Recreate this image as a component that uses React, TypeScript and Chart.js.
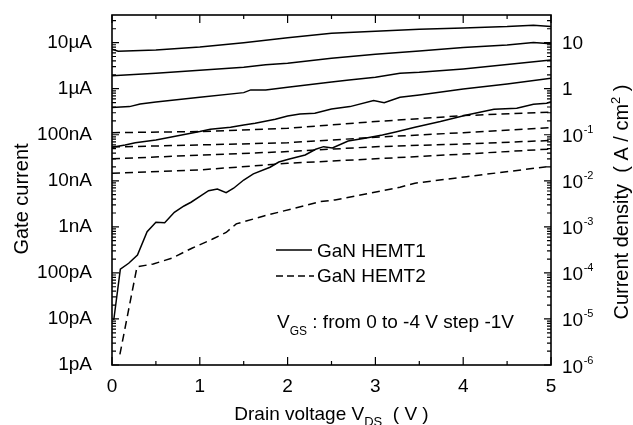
import React, { useEffect, useRef } from "react";
import { Chart, registerables } from "chart.js";

Chart.register(...registerables);

// ---- Data ----
// GaN HEMT1 (solid), VGS = 0 .. -4 V
const h1v0x = [0, 0.07, 0.5, 1, 1.5, 2, 2.5, 3, 3.5, 4, 4.5, 4.8, 5];
const h1v0y = [7.2e-6, 6.5e-6, 6.9e-6, 8.0e-6, 9.9e-6, 1.27e-5, 1.6e-5, 1.77e-5, 1.95e-5, 2.09e-5, 2.23e-5, 2.39e-5, 2.25e-5];

const h1v1x = [0, 0.5, 1, 1.5, 1.75, 2, 2.5, 3, 3.5, 4, 4.5, 4.8, 5];
const h1v1y = [1.92e-6, 2.17e-6, 2.52e-6, 2.92e-6, 3.3e-6, 3.57e-6, 4.59e-6, 5.61e-6, 6.61e-6, 7.8e-6, 8.93e-6, 1.0e-5, 9.4e-6];

const h1v2x = [0, 0.2, 0.32, 0.5, 1, 1.5, 1.58, 1.75, 2, 2.5, 2.7, 3, 3.28, 3.5, 4, 4.5, 5];
const h1v2y = [3.88e-7, 4.08e-7, 4.67e-7, 5.16e-7, 6.53e-7, 8.21e-7, 9.4e-7, 9.4e-7, 1.08e-6, 1.4e-6, 1.55e-6, 1.77e-6, 2.17e-6, 2.28e-6, 2.69e-6, 3.33e-6, 4.22e-6];

const h1v3x = [0, 0.15, 0.265, 0.5, 1.0, 1.12, 1.35, 1.5, 1.63, 1.86, 2.0, 2.14, 2.31, 2.5, 2.71, 2.98, 3.1, 3.28, 3.5, 4.0, 4.5, 5.0];
const h1v3y = [5.35e-8, 6.0e-8, 6.73e-8, 7.71e-8, 1.17e-7, 1.32e-7, 1.45e-7, 1.63e-7, 1.78e-7, 2.17e-7, 2.56e-7, 2.83e-7, 2.93e-7, 3.63e-7, 4.08e-7, 5.5e-7, 4.98e-7, 6.53e-7, 7.32e-7, 9.88e-7, 1.27e-6, 1.69e-6];

const h1v4x = [0.02, 0.095, 0.19, 0.29, 0.4, 0.5, 0.6, 0.71, 0.82, 0.9, 1.01, 1.1, 1.2, 1.3, 1.385, 1.5, 1.61, 1.8, 1.9, 2.01, 2.2, 2.32, 2.41, 2.51, 2.69, 2.88, 3.08, 3.23, 3.45, 3.74, 4.04, 4.35, 4.61, 4.8, 4.95, 5.0];
const h1v4y = [9.5e-12, 1.2e-10, 1.62e-10, 2.45e-10, 7.85e-10, 1.26e-9, 1.23e-9, 2.07e-9, 2.84e-9, 3.42e-9, 4.69e-9, 6.11e-9, 6.65e-9, 5.52e-9, 6.89e-9, 1.04e-8, 1.41e-8, 1.97e-8, 2.56e-8, 2.94e-8, 3.64e-8, 4.84e-8, 5.51e-8, 5.16e-8, 7.33e-8, 8.39e-8, 9.9e-8, 1.15e-7, 1.46e-7, 1.93e-7, 2.69e-7, 3.58e-7, 3.77e-7, 4.6e-7, 4.84e-7, 5.24e-7];

// GaN HEMT2 (dashed), VGS = 0 .. -4 V
const h2x = [0, 1, 2, 3, 4, 5];
const h2v0y = [1.11e-7, 1.17e-7, 1.38e-7, 1.93e-7, 2.6e-7, 3.1e-7];
const h2v1y = [5.4e-8, 6.0e-8, 6.7e-8, 8.8e-8, 1.11e-7, 1.43e-7];
const h2v2y = [3.0e-8, 3.6e-8, 4.3e-8, 5.5e-8, 6.3e-8, 7.5e-8];
const h2v3y = [1.46e-8, 1.72e-8, 2.4e-8, 3.0e-8, 3.8e-8, 4.9e-8];

const h2v4x = [0.09, 0.285, 0.47, 0.68, 0.91, 1.14, 1.3, 1.415, 1.73, 2.37, 2.54, 3.28, 3.45, 4.04, 5.0];
const h2v4y = [1.7e-12, 1.36e-10, 1.56e-10, 2.08e-10, 3.43e-10, 5.37e-10, 7.55e-10, 1.16e-9, 1.72e-9, 3.52e-9, 3.84e-9, 7.24e-9, 8.85e-9, 1.23e-8, 2.07e-8];

// Axes
const xTickValues = [0, 1, 2, 3, 4, 5];
const xTickLabels = ["0", "1", "2", "3", "4", "5"];
const leftTickValues = [1e-12, 1e-11, 1e-10, 1e-9, 1e-8, 1e-7, 1e-6, 1e-5];
const leftTickLabels = ["1pA", "10pA", "100pA", "1nA", "10nA", "100nA", "1µA", "10µA"];
const rightTickValues = [1e-6, 1e-5, 1e-4, 1e-3, 1e-2, 1e-1, 1, 10];
const rightTickBase = ["10", "10", "10", "10", "10", "10", "1", "10"];
const rightTickExp = ["-6", "-5", "-4", "-3", "-2", "-1", "", ""];

const legendLabels = ["GaN HEMT1", "GaN HEMT2"];

const FONT = '"Liberation Sans", Arial, Helvetica, sans-serif';
const font = (s: number) => `${s}px ${FONT}`;

type Part = { t: string; s: number; dy: number };

function richWidth(ctx: CanvasRenderingContext2D, parts: Part[]) {
  let w = 0;
  for (const p of parts) {
    ctx.font = font(p.s);
    w += ctx.measureText(p.t).width;
  }
  return w;
}
function drawRich(ctx: CanvasRenderingContext2D, parts: Part[], x: number, y: number, center: boolean) {
  let cx = center ? x - richWidth(ctx, parts) / 2 : x;
  ctx.textAlign = "left";
  ctx.textBaseline = "alphabetic";
  for (const p of parts) {
    ctx.font = font(p.s);
    ctx.fillText(p.t, cx, y + p.dy);
    cx += ctx.measureText(p.t).width;
  }
}

const decorations = {
  id: "decorations",
  afterDraw(chart: any) {
    const { ctx, chartArea: a, scales } = chart;
    const xs = scales.x;
    const yl = scales.y;
    const yr = scales.yRight;
    ctx.save();
    ctx.strokeStyle = "#000";
    ctx.fillStyle = "#000";
    ctx.lineWidth = 1.6;
    ctx.strokeRect(a.left, a.top, a.right - a.left, a.bottom - a.top);

    ctx.lineWidth = 1.2;
    ctx.beginPath();
    // x ticks (bottom and top), inward
    for (let v = 0; v <= 5.0001; v += 0.5) {
      const px = xs.getPixelForValue(v);
      const major = Math.abs(v - Math.round(v)) < 1e-6;
      const len = major ? 8 : 4;
      ctx.moveTo(px, a.bottom);
      ctx.lineTo(px, a.bottom - len);
      ctx.moveTo(px, a.top);
      ctx.lineTo(px, a.top + len);
    }
    // y ticks left
    for (let d = -12; d <= -5; d++) {
      for (let m = 1; m <= 9; m++) {
        const v = m * Math.pow(10, d);
        if (v > yl.max * 1.0001) continue;
        const py = yl.getPixelForValue(v);
        const len = m === 1 ? 7 : 4;
        ctx.moveTo(a.left, py);
        ctx.lineTo(a.left + len, py);
      }
    }
    // y ticks right
    for (let d = -6; d <= 1; d++) {
      for (let m = 1; m <= 9; m++) {
        const v = m * Math.pow(10, d);
        if (v > yr.max * 1.0001) continue;
        const py = yr.getPixelForValue(v);
        const len = m === 1 ? 7 : 4;
        ctx.moveTo(a.right, py);
        ctx.lineTo(a.right - len, py);
      }
    }
    ctx.stroke();

    // right tick labels with superscripts
    rightTickValues.forEach((v, i) => {
      const py = yr.getPixelForValue(v);
      ctx.textAlign = "left";
      ctx.textBaseline = "alphabetic";
      ctx.font = font(19);
      if (rightTickExp[i]) {
        ctx.fillText(rightTickBase[i], 562, py + 7.5);
        const w = ctx.measureText(rightTickBase[i]).width;
        ctx.font = font(11);
        ctx.fillText(rightTickExp[i], 562 + w + 0.5, py - 1.5);
      } else {
        ctx.fillText(rightTickBase[i], 562, py + 6.5);
      }
    });

    // left title
    ctx.save();
    ctx.translate(28, 199);
    ctx.rotate(-Math.PI / 2);
    ctx.font = font(20);
    ctx.textAlign = "center";
    ctx.textBaseline = "alphabetic";
    ctx.fillText("Gate current", 0, 0);
    ctx.restore();

    // right title
    ctx.save();
    ctx.translate(628, 202);
    ctx.rotate(-Math.PI / 2);
    drawRich(
      ctx,
      [
        { t: "Current density  ( A / cm", s: 20, dy: 0 },
        { t: "2", s: 13, dy: -8 },
        { t: " )", s: 20, dy: 0 },
      ],
      0,
      0,
      true
    );
    ctx.restore();

    // bottom title
    drawRich(
      ctx,
      [
        { t: "Drain voltage V", s: 19, dy: 0 },
        { t: "DS", s: 13, dy: 6 },
        { t: "  ( V )", s: 19, dy: 0 },
      ],
      (a.left + a.right) / 2,
      420,
      true
    );

    // legend
    ctx.lineWidth = 1.5;
    ctx.beginPath();
    ctx.setLineDash([]);
    ctx.moveTo(276, 250);
    ctx.lineTo(312, 250);
    ctx.stroke();
    ctx.beginPath();
    ctx.setLineDash([7, 4]);
    ctx.moveTo(276, 276);
    ctx.lineTo(314, 276);
    ctx.stroke();
    ctx.setLineDash([]);
    ctx.font = font(19);
    ctx.textAlign = "left";
    ctx.fillText(legendLabels[0], 317, 257);
    ctx.fillText(legendLabels[1], 317, 282);

    // annotation
    drawRich(
      ctx,
      [
        { t: "V", s: 19, dy: 0 },
        { t: "GS", s: 12, dy: 7 },
        { t: " : from 0 to -4 V step -1V", s: 19, dy: 0 },
      ],
      277,
      328,
      false
    );
    ctx.restore();
  },
};

function mk(xs: number[], ys: number[], dashed: boolean) {
  return {
    data: xs.map((x, i) => ({ x, y: ys[i] })),
    borderColor: "#000",
    backgroundColor: "#000",
    borderWidth: 1.5,
    borderDash: dashed ? [8, 5] : [],
    pointRadius: 0,
    fill: false,
    tension: 0,
    yAxisID: "y",
  };
}

export default function App() {
  const ref = useRef<HTMLCanvasElement>(null);
  useEffect(() => {
    document.body.style.margin = "0";
    const canvas = ref.current!;
    const chart = new Chart(canvas, {
      type: "line",
      data: {
        datasets: [
          mk(h1v0x, h1v0y, false),
          mk(h1v1x, h1v1y, false),
          mk(h1v2x, h1v2y, false),
          mk(h1v3x, h1v3y, false),
          mk(h1v4x, h1v4y, false),
          mk(h2x, h2v0y, true),
          mk(h2x, h2v1y, true),
          mk(h2x, h2v2y, true),
          mk(h2x, h2v3y, true),
          mk(h2v4x, h2v4y, true),
        ] as any,
      },
      options: {
        animation: false,
        responsive: false,
        maintainAspectRatio: false,
        layout: { padding: { top: 15, left: 0, right: 0, bottom: 0 } },
        plugins: { legend: { display: false }, tooltip: { enabled: false } },
        scales: {
          x: {
            type: "linear",
            position: "bottom",
            min: 0,
            max: 5,
            bounds: "data",
            grid: { display: false },
            border: { display: false },
            afterBuildTicks: (s: any) => {
              s.ticks = xTickValues.map((v) => ({ value: v }));
            },
            ticks: {
              autoSkip: false,
              maxRotation: 0,
              padding: 2,
              color: "#000",
              font: { family: FONT, size: 19 },
              callback: (v: any) => xTickLabels[xTickValues.indexOf(Number(v))] ?? "",
            },
            afterFit: (s: any) => {
              s.height = 60;
              s.paddingLeft = 0;
              s.paddingRight = 0;
            },
          },
          y: {
            type: "logarithmic",
            position: "left",
            min: 1e-12,
            max: 3.98e-5,
            bounds: "data",
            grid: { display: false },
            border: { display: false },
            afterBuildTicks: (s: any) => {
              s.ticks = leftTickValues.map((v) => ({ value: v }));
            },
            ticks: {
              autoSkip: false,
              padding: 12,
              color: "#000",
              font: { family: FONT, size: 19 },
              callback: (v: any) => {
                const i = Math.round(Math.log10(Number(v))) + 12;
                return leftTickLabels[i] ?? "";
              },
            },
            afterFit: (s: any) => {
              s.width = 112;
              s.paddingTop = 0;
              s.paddingBottom = 0;
            },
          },
          yRight: {
            type: "logarithmic",
            position: "right",
            min: 1e-6,
            max: 39.8,
            bounds: "data",
            grid: { display: false },
            border: { display: false },
            ticks: { display: false },
            afterFit: (s: any) => {
              s.width = 82;
              s.paddingTop = 0;
              s.paddingBottom = 0;
            },
          },
        },
      } as any,
      plugins: [decorations],
    });
    return () => chart.destroy();
  }, []);
  return (
    <div style={{ width: 633, height: 425 }}>
      <canvas ref={ref} width={633} height={425} style={{ display: "block" }} />
    </div>
  );
}
